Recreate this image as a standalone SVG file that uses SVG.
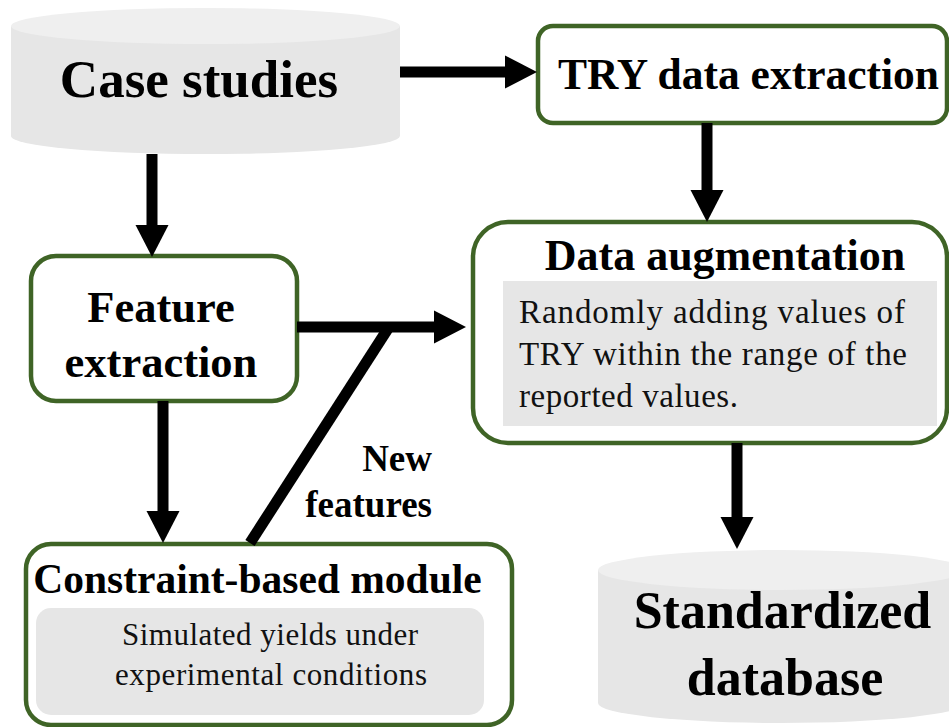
<svg xmlns="http://www.w3.org/2000/svg" width="949" height="727" viewBox="0 0 949 727">
<style>
.box{fill:#ffffff;stroke:#3f6426;stroke-width:4.5}
.gray{fill:#e6e6e6;stroke:none}
.cyltop{fill:#efefef;stroke:none}
.title{font-family:"Liberation Serif","Times New Roman",serif;font-weight:bold;fill:#000}
.body{font-family:"Liberation Serif","Times New Roman",serif;fill:#111}
.conn{stroke:#000;stroke-width:11;fill:none}
</style>
<defs>
<marker id="ah" viewBox="0 -17 33 34" markerUnits="userSpaceOnUse" markerWidth="33" markerHeight="34" refX="0" refY="0" orient="auto">
<path d="M0,-16.5 L32,0 L0,16.5 z" fill="#000"/>
</marker>
</defs>
<rect width="949" height="727" fill="#ffffff"/>

<g id="case-studies">
<path class="gray" d="M11,26 L11,136 A194.5,18 0 0 0 400,136 L400,26 z"/>
<ellipse class="cyltop" cx="205.5" cy="26" rx="194.5" ry="18"/>
<text class="title" x="199" y="97" font-size="53" text-anchor="middle">Case studies</text>
</g>

<g id="try-extraction">
<rect class="box" x="538" y="26" width="409" height="97" rx="15"/>
<text class="title" x="748.5" y="89" font-size="43.5" text-anchor="middle">TRY data extraction</text>
</g>

<g id="feature-extraction">
<rect class="box" x="31" y="256" width="266" height="145" rx="25"/>
<text class="title" x="161" y="322" font-size="44.5" text-anchor="middle">Feature</text>
<text class="title" x="161" y="377" font-size="44.5" text-anchor="middle">extraction</text>
</g>

<g id="data-augmentation">
<rect class="box" x="473" y="222" width="474" height="221" rx="35"/>
<text class="title" x="725" y="270" font-size="44" text-anchor="middle">Data augmentation</text>
<rect class="gray" x="503" y="281" width="434" height="145"/>
<text class="body" x="519" y="323" font-size="33" textLength="386" lengthAdjust="spacing">Randomly adding values of</text>
<text class="body" x="519" y="365" font-size="33" textLength="388" lengthAdjust="spacing">TRY within  the range of the</text>
<text class="body" x="519" y="407" font-size="33" textLength="219" lengthAdjust="spacing">reported values.</text>
</g>

<g id="constraint-module">
<rect class="box" x="26" y="544" width="486" height="181" rx="25"/>
<text class="title" x="257.5" y="593" font-size="41.5" text-anchor="middle">Constraint-based module</text>
<rect class="gray" x="36" y="608" width="448" height="107" rx="15"/>
<text class="body" x="122" y="645" font-size="31" textLength="296" lengthAdjust="spacing">Simulated yields under</text>
<text class="body" x="115" y="685" font-size="31" textLength="312" lengthAdjust="spacing">experimental  conditions</text>
</g>

<g id="standardized-database">
<path class="gray" d="M598,570 L598,703 A183.5,20 0 0 0 965,703 L965,570 z"/>
<ellipse class="cyltop" cx="781.5" cy="570" rx="183.5" ry="20"/>
<text class="title" x="782.5" y="628" font-size="52" text-anchor="middle">Standardized</text>
<text class="title" x="785" y="695" font-size="52" text-anchor="middle">database</text>
</g>

<g id="connectors">
<line class="conn" x1="400" y1="72" x2="505" y2="72" marker-end="url(#ah)"/>
<line class="conn" x1="152" y1="154" x2="152" y2="225" marker-end="url(#ah)"/>
<line class="conn" x1="707" y1="123" x2="707" y2="190" marker-end="url(#ah)"/>
<line class="conn" x1="297" y1="327" x2="434" y2="327" marker-end="url(#ah)"/>
<line class="conn" x1="163" y1="401" x2="163" y2="511" marker-end="url(#ah)"/>
<line class="conn" x1="737" y1="443" x2="737" y2="517" marker-end="url(#ah)"/>
<line class="conn" x1="389" y1="327" x2="250" y2="543" stroke-width="12"/>
<text class="title" x="432" y="471" font-size="37" text-anchor="end">New</text>
<text class="title" x="432" y="517" font-size="37" text-anchor="end">features</text>
</g>
</svg>
